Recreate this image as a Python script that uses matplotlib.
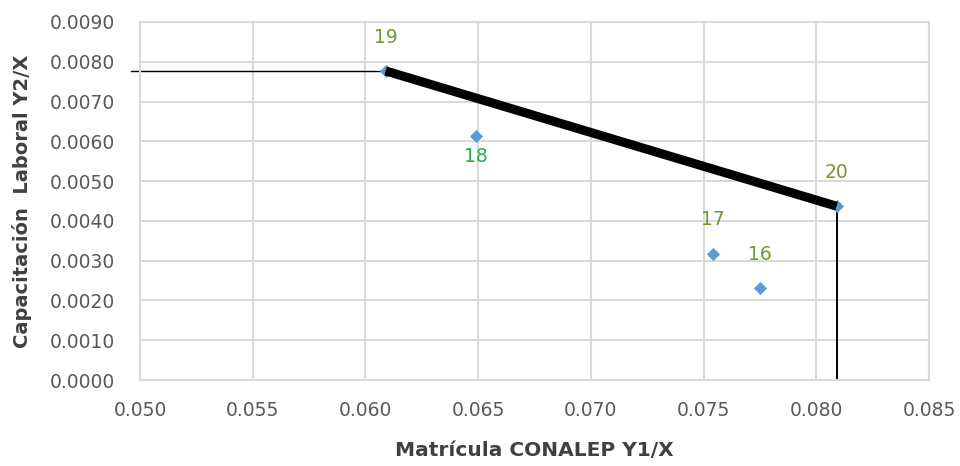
import numpy as np
import matplotlib
matplotlib.use('Agg')
import matplotlib.pyplot as plt

plt.rcParams['font.family'] = ['DejaVu Sans']

# data
labels = ['16', '17', '18', '19', '20']
x_vals = [0.0775, 0.0754, 0.0649, 0.0609, 0.0809]
y_vals = [0.00231, 0.00317, 0.00613, 0.00777, 0.00437]
label_colors = ['#6f9a2e', '#6f9a2e', '#22b04b', '#6f9a2e', '#6f9a2e']
label_offsets = [(0, 24), (0, 25), (0, -15), (0, 24), (0, 24)]

x_ticks = [0.050, 0.055, 0.060, 0.065, 0.070, 0.075, 0.080, 0.085]
y_ticks = [0.0000, 0.0010, 0.0020, 0.0030, 0.0040, 0.0050, 0.0060, 0.0070, 0.0080, 0.0090]

fig = plt.figure(figsize=(9.6, 4.66), dpi=100)
ax = fig.add_axes([0.1458, 0.1845, 0.8219, 0.7683])

ax.set_xlim(0.050, 0.085)
ax.set_ylim(0.0, 0.009)
ax.set_xticks(x_ticks)
ax.set_yticks(y_ticks)
ax.set_xticklabels(['%.3f' % v for v in x_ticks])
ax.set_yticklabels(['%.4f' % v for v in y_ticks])
ax.tick_params(length=0, labelsize=13.5, labelcolor='#595959')
ax.tick_params(axis='y', pad=18)
ax.tick_params(axis='x', pad=15)
ax.grid(True, color='#d9d9d9', linewidth=1.5)
ax.set_axisbelow(True)
for s in ax.spines.values():
    s.set_color('#d9d9d9')
    s.set_linewidth(1.5)

i19 = labels.index('19')
i20 = labels.index('20')
# thin guide lines
ax.plot([0.0496, x_vals[i19]], [y_vals[i19], y_vals[i19]], color='black', lw=1.0, clip_on=False, zorder=2)
ax.plot([x_vals[i20], x_vals[i20]], [0, y_vals[i20]], color='black', lw=1.4, zorder=2)
# thick frontier line
ax.plot([x_vals[i19], x_vals[i20]], [y_vals[i19], y_vals[i20]], color='black', lw=6.5,
        solid_capstyle='butt', zorder=4)

ax.scatter(x_vals, y_vals, marker='D', s=45, color='#5b9bd5', zorder=3, linewidths=0)

for lab, x, y, c, off in zip(labels, x_vals, y_vals, label_colors, label_offsets):
    ax.annotate(lab, (x, y), xytext=off, textcoords='offset points', ha='center', va='center',
                fontsize=13.5, color=c, zorder=5)

fig.text(534.5 / 960, 1 - 451 / 466, 'Matrícula CONALEP Y1/X', fontsize=14.5, fontweight='bold',
         color='#404040', ha='center', va='center')
fig.text(22 / 960, 1 - 201 / 466, 'Capacitación  Laboral Y2/X', fontsize=14, fontweight='bold',
         color='#404040', ha='center', va='center', rotation=90)

fig.savefig('out.png', dpi=100)
